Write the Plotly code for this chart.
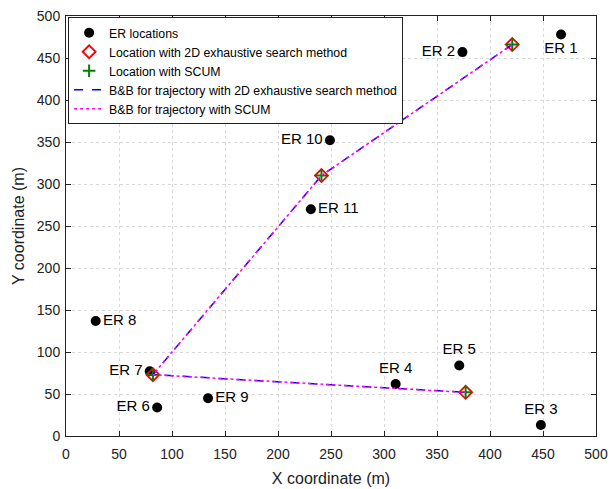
import plotly.graph_objects as go

er_names = ["ER 1", "ER 2", "ER 3", "ER 4", "ER 5", "ER 6", "ER 7", "ER 8", "ER 9", "ER 10", "ER 11"]
er_x = [467, 374, 448, 311, 371, 86, 79, 28, 134, 249, 231]
er_y = [478, 457, 13, 62, 84, 34, 77, 137, 45, 352, 270]

loc_x = [421, 241, 82, 377]
loc_y = [466, 310, 73, 52]
scum_x = [421, 241, 82, 377]
scum_y = [466, 310, 73, 52]

traj_exh_x = [421, 241, 82, 377]
traj_exh_y = [466, 310, 73, 52]
traj_scum_x = [421, 241, 82, 377]
traj_scum_y = [466, 310, 73, 52]

label_pos = ["bottom center", "middle left", "top center", "top center", "top center",
             "middle left", "middle left", "middle right", "middle right", "middle left", "middle right"]

FONT = "Liberation Sans, Arial, sans-serif"

fig = go.Figure()
fig.add_trace(go.Scatter(x=er_x, y=er_y, mode="markers+text", text=er_names,
                         textposition=label_pos, textfont=dict(size=15, color="black", family=FONT),
                         marker=dict(symbol="circle", size=10, color="black"),
                         name="ER locations"))
fig.add_trace(go.Scatter(x=loc_x, y=loc_y, mode="markers",
                         marker=dict(symbol="diamond-open", size=10, color="red", line=dict(width=1.8, color="red")),
                         name="Location with 2D exhaustive search method"))
fig.add_trace(go.Scatter(x=scum_x, y=scum_y, mode="markers",
                         marker=dict(symbol="cross-thin-open", size=9, color="green", line=dict(width=2, color="green")),
                         name="Location with SCUM"))
fig.add_trace(go.Scatter(x=traj_exh_x, y=traj_exh_y, mode="lines",
                         line=dict(color="blue", dash="dash", width=1.5),
                         name="B&B for trajectory with 2D exhaustive search method"))
fig.add_trace(go.Scatter(x=traj_scum_x, y=traj_scum_y, mode="lines",
                         line=dict(color="magenta", dash="dot", width=1.5),
                         name="B&B for trajectory with SCUM"))

axis_common = dict(showline=True, linecolor="#222222", linewidth=1, mirror="ticks",
                   ticks="inside", ticklen=5, tickcolor="#222222",
                   showgrid=True, gridcolor="#d9d9d9", griddash="dot", gridwidth=1,
                   zeroline=False, tickfont=dict(size=14, color="#222222", family=FONT),
                   dtick=50, automargin=False)
fig.update_xaxes(range=[0, 500], ticklabelstandoff=5,
                 title=dict(text="X coordinate (m)", font=dict(size=16, color="#222222", family=FONT), standoff=12),
                 **axis_common)
fig.update_yaxes(range=[0, 500], ticklabelstandoff=2,
                 title=dict(text="Y coordinate (m)", font=dict(size=16, color="#222222", family=FONT), standoff=8),
                 **axis_common)

fig.update_layout(width=612, height=489, margin=dict(l=66, r=16, t=16, b=53),
                  plot_bgcolor="white", paper_bgcolor="white",
                  font=dict(family=FONT, color="black"),
                  legend=dict(x=0.004, y=0.997, xanchor="left", yanchor="top",
                              bgcolor="white", bordercolor="#222222", borderwidth=1,
                              font=dict(size=12.3, family=FONT, color="black"),
                              tracegroupgap=0, itemwidth=30))
fig.write_html("out.html", config={"displayModeBar": False},
               post_script="document.body.style.margin='0';document.body.style.overflow='hidden';")
